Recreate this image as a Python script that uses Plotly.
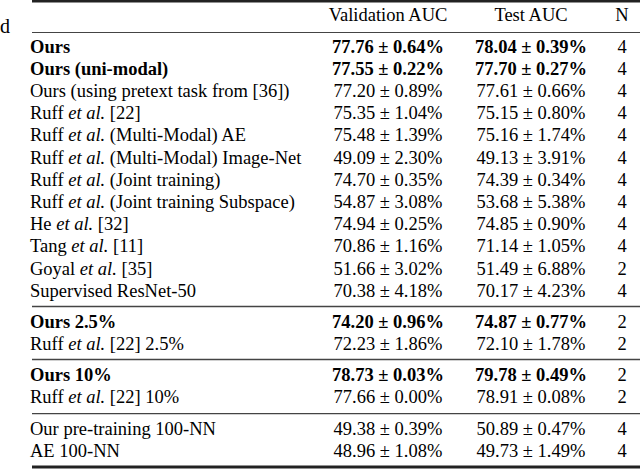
import plotly.graph_objects as go

# ---- data ----
methods = [
    "Ours", "Ours (uni-modal)", "Ours (using pretext task from [36])",
    "Ruff <i>et al.</i> [22]", "Ruff <i>et al.</i> (Multi-Modal) AE",
    "Ruff <i>et al.</i> (Multi-Modal) Image-Net", "Ruff <i>et al.</i> (Joint training)",
    "Ruff <i>et al.</i> (Joint training Subspace)", "He <i>et al.</i> [32]",
    "Tang <i>et al.</i> [11]", "Goyal <i>et al.</i> [35]", "Supervised ResNet-50",
    "Ours 2.5%", "Ruff <i>et al.</i> [22] 2.5%",
    "Ours 10%", "Ruff <i>et al.</i> [22] 10%",
    "Our pre-training 100-NN", "AE 100-NN",
]
val_mean = [77.76, 77.55, 77.20, 75.35, 75.48, 49.09, 74.70, 54.87, 74.94, 70.86, 51.66, 70.38,
            74.20, 72.23, 78.73, 77.66, 49.38, 48.96]
val_std = [0.64, 0.22, 0.89, 1.04, 1.39, 2.30, 0.35, 3.08, 0.25, 1.16, 3.02, 4.18,
           0.96, 1.86, 0.03, 0.00, 0.39, 1.08]
test_mean = [78.04, 77.70, 77.61, 75.15, 75.16, 49.13, 74.39, 53.68, 74.85, 71.14, 51.49, 70.17,
             74.87, 72.10, 79.78, 78.91, 50.89, 49.73]
test_std = [0.39, 0.27, 0.66, 0.80, 1.74, 3.91, 0.34, 5.38, 0.90, 1.05, 6.88, 4.23,
            0.77, 1.78, 0.49, 0.08, 0.47, 1.49]
n_runs = [4, 4, 4, 4, 4, 4, 4, 4, 4, 4, 2, 4, 2, 2, 2, 2, 4, 4]
bold = [True, True] + [False] * 10 + [True, False, True, False, False, False]
group = [0] * 12 + [1, 1, 2, 2, 3, 3]
headers = ["Validation AUC", "Test AUC", "N"]

# ---- layout geometry ----
FONT = "Liberation Serif"
FS = 18.5
ROW = 22.2
GAPS = [0, 8.6, 17.2, 27.0]
Y0 = 48
X_LABEL = 30
X_VAL = 388
X_TEST = 531
X_N = 622

ys = [Y0 + i * ROW + GAPS[group[i]] for i in range(len(methods))]

def b(s, flag):
    return f"<b>{s}</b>" if flag else s

labels = [b(m, f) for m, f in zip(methods, bold)]
vals = [b(f"{m:.2f} ± {s:.2f}%", f) for m, s, f in zip(val_mean, val_std, bold)]
tests = [b(f"{m:.2f} ± {s:.2f}%", f) for m, s, f in zip(test_mean, test_std, bold)]
ns = [str(v) for v in n_runs]

fig = go.Figure()
tf = dict(family=FONT, size=FS, color="black")
fig.add_trace(go.Scatter(x=[X_LABEL] * len(ys), y=ys, text=labels, mode="text",
                         textposition="middle right", textfont=tf, cliponaxis=False, hoverinfo="skip"))
fig.add_trace(go.Scatter(x=[X_VAL] * len(ys), y=ys, text=vals, mode="text",
                         textposition="middle center", textfont=tf, cliponaxis=False, hoverinfo="skip"))
fig.add_trace(go.Scatter(x=[X_TEST] * len(ys), y=ys, text=tests, mode="text",
                         textposition="middle center", textfont=tf, cliponaxis=False, hoverinfo="skip"))
fig.add_trace(go.Scatter(x=[X_N] * len(ys), y=ys, text=ns, mode="text",
                         textposition="middle center", textfont=tf, cliponaxis=False, hoverinfo="skip"))
# header
fig.add_trace(go.Scatter(x=[X_VAL, X_TEST, X_N], y=[16] * 3, text=headers, mode="text",
                         textposition="middle center", textfont=tf, cliponaxis=False, hoverinfo="skip"))
# letter from the neighbouring column
fig.add_annotation(x=0, y=26, xref="x", yref="y", text="d", showarrow=False,
                   xanchor="left", yanchor="middle", xshift=-2,
                   font=dict(family=FONT, size=20, color="black"))

def rule(y, w, color="#222"):
    fig.add_shape(type="line", x0=32, x1=640, y0=y, y1=y, line=dict(color=color, width=w))

rule(1.2, 2.4)
rule(32.5, 1.2, "#444")
for g in (1, 2, 3):
    first = group.index(g)
    rule(ys[first] - 16.5, 1.3, "#444")
rule(467, 3)

fig.update_layout(
    width=640, height=470, margin=dict(l=0, r=0, t=0, b=0),
    paper_bgcolor="white", plot_bgcolor="white", showlegend=False,
    xaxis=dict(range=[0, 640], visible=False, fixedrange=True),
    yaxis=dict(range=[470, 0], visible=False, fixedrange=True),
)
fig.write_html("out.html", post_script="document.body.style.margin='0';",
               config={"displayModeBar": False})
